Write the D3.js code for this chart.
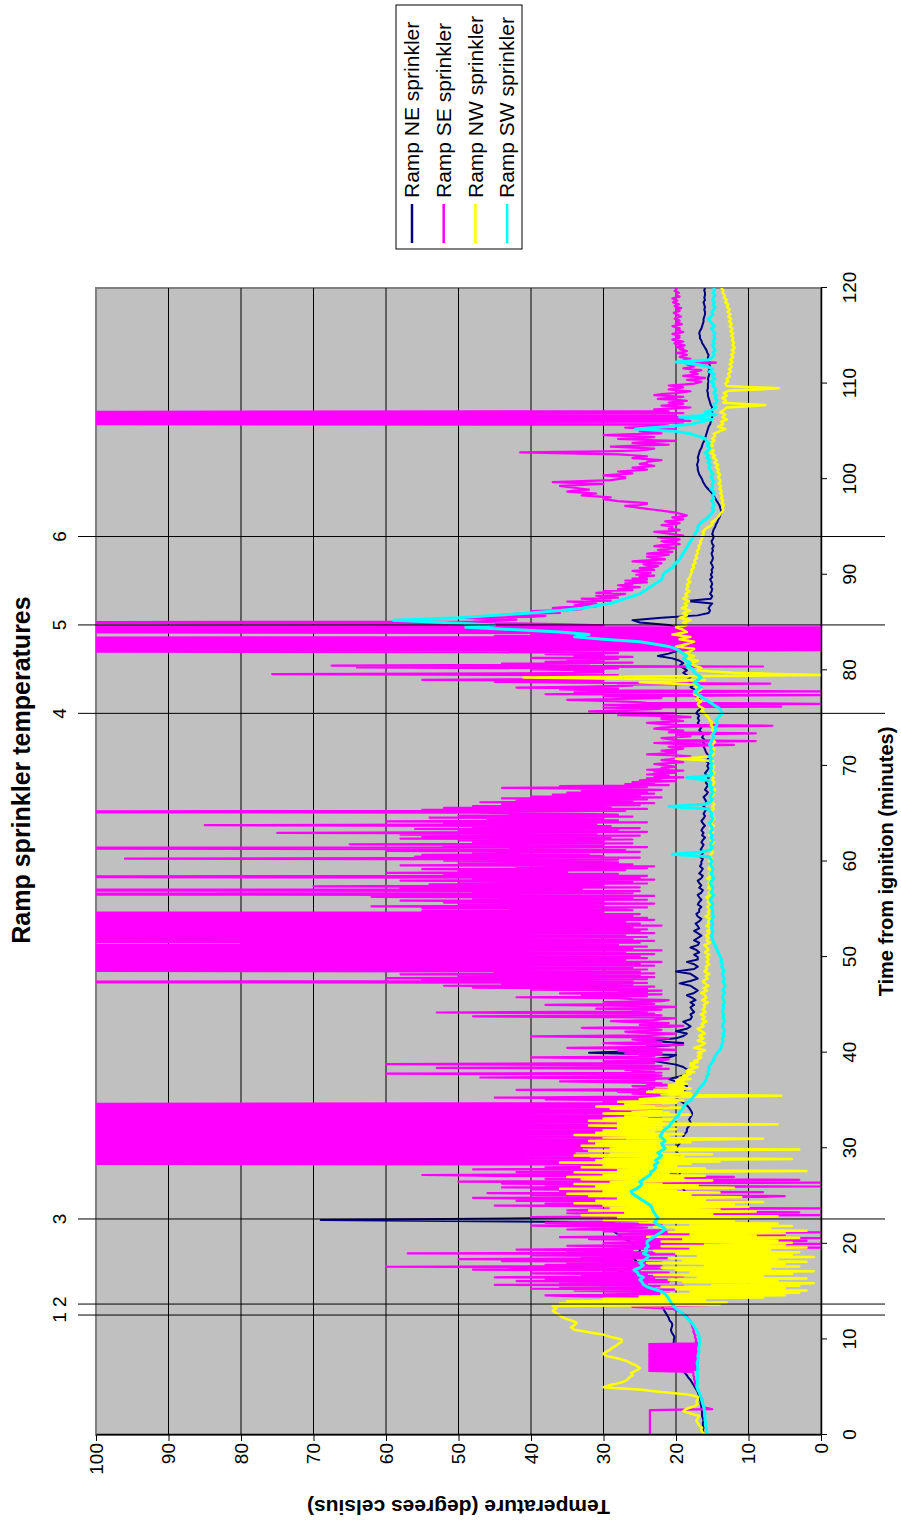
<!DOCTYPE html>
<html>
<head>
<meta charset="utf-8">
<script src="https://cdn.jsdelivr.net/npm/d3@7"></script>
<style>
body { margin: 0; background: #fff; }
text { font-family: "Liberation Sans", Arial, sans-serif; }
</style>
</head>
<body>
<svg width="901" height="1526"></svg>
<script>
var seriesNames = ["Ramp NE sprinkler", "Ramp SE sprinkler", "Ramp NW sprinkler", "Ramp SW sprinkler"];
var seriesColors = ["#000080", "#ff00ff", "#ffff00", "#00ffff"];
var timeTicks = [0, 10, 20, 30, 40, 50, 60, 70, 80, 90, 100, 110, 120];
var tempTicks = [0, 10, 20, 30, 40, 50, 60, 70, 80, 90, 100];
var eventTimes = [12.55, 13.7, 22.6, 75.5, 84.75, 94.0];
var eventLabels = [["1 2", [12.55, 13.7]], ["3", [22.6]], ["4", [75.5]], ["5", [84.75]], ["6", [94.0]]];

// NE sprinkler, one reading every 0.25 min
var ne = [
16.2,16.2,16.3,16.2,16.3,16.3,16.2,16.3,16.4,16.4,16.4,16.5,16.5,16.6,16.6,16.7,16.8,16.9,17.0,17.2,
17.4,17.6,17.8,18.0,18.3,18.5,18.8,19.0,19.3,19.5,19.7,19.9,20.0,20.2,20.3,20.4,20.5,20.5,20.4,20.3,
20.3,20.2,20.4,20.6,20.7,20.6,20.5,20.6,20.9,21.0,21.2,21.4,21.6,21.8,22.0,22.3,22.6,23.0,23.4,23.8,
24.5,25.0,25.5,26.0,26.5,27.5,28.5,29.0,28.0,27.0,26.5,26.0,25.5,25.5,26.0,26.0,25.5,25.0,25.0,25.5,
26.0,26.5,27.0,27.5,28.0,28.5,27.5,27.0,28.0,29.0,69.0,29.0,27.0,26.5,27.0,26.0,24.0,22.0,21.0,20.0,
19.5,19.0,18.8,19.0,19.3,19.5,19.8,20.0,19.8,19.5,19.5,19.8,20.0,20.2,20.0,19.8,19.5,19.5,19.8,20.0,
20.0,19.8,19.5,19.3,19.0,19.0,18.8,18.5,18.5,18.3,18.0,18.0,18.2,18.0,17.8,17.8,18.0,18.2,18.5,19.0,
19.5,20.0,19.5,19.0,19.0,18.5,18.5,19.0,20.0,21.0,19.5,18.5,18.0,18.5,19.0,20.0,22.0,24.0,21.0,20.0,
32.0,22.0,26.0,21.0,19.0,24.0,20.0,19.0,18.5,20.0,18.5,18.0,18.5,19.0,18.0,17.8,18.0,17.5,17.8,18.0,
17.5,18.0,17.3,17.8,18.5,17.5,17.0,17.5,18.0,19.5,18.0,17.0,17.5,18.0,20.0,17.5,17.0,17.5,18.5,17.0,
17.0,17.5,16.8,17.2,18.0,17.0,16.8,17.5,17.0,16.5,17.0,17.5,16.8,17.0,17.3,16.8,16.5,17.0,17.2,16.8,
16.8,16.5,17.0,16.8,16.5,16.8,17.0,16.5,16.3,16.8,16.5,16.8,17.0,16.5,16.3,16.8,16.5,16.3,16.7,16.5,
16.5,16.3,16.7,16.4,16.2,16.6,16.4,16.2,16.5,16.3,16.0,16.4,16.2,16.5,16.3,16.0,16.3,16.5,16.2,16.0,
16.2,16.0,15.8,16.2,16.0,15.8,16.0,16.2,15.8,15.6,16.0,15.8,15.6,15.9,15.7,15.5,15.8,16.0,15.7,15.5,
15.7,15.5,15.8,15.6,15.4,15.7,15.9,16.0,16.2,16.0,16.3,16.1,16.4,16.2,16.5,16.8,16.5,16.8,17.0,16.8,
17.0,16.8,17.2,17.0,16.5,16.8,17.0,16.5,16.8,17.2,17.5,17.0,17.5,18.0,17.5,18.0,18.5,18.0,18.5,19.0,
18.5,19.0,19.5,19.0,19.5,20.5,22.5,21.0,20.0,19.5,20.0,19.5,19.0,19.5,20.0,19.5,19.0,19.5,20.0,21.0,
25.0,26.0,22.0,17.0,15.5,15.3,15.5,15.3,15.0,18.5,15.2,15.0,15.3,15.1,15.0,15.2,15.0,15.1,15.3,15.0,
15.2,15.0,15.1,14.9,15.0,15.2,15.0,14.9,15.0,15.1,14.9,15.0,14.8,15.0,15.1,14.9,14.8,15.0,14.9,14.8,
14.6,14.5,14.3,14.2,14.0,13.9,13.8,13.8,13.9,14.0,14.2,14.4,14.6,14.8,15.0,15.3,15.6,15.9,16.1,16.3,
16.4,16.6,16.8,16.9,17.0,17.0,17.1,17.0,16.9,17.0,16.9,16.8,16.7,16.5,16.4,16.3,16.1,16.0,15.9,15.8,
15.7,15.6,15.5,15.3,15.2,15.1,15.0,15.0,15.0,15.1,15.0,15.2,15.3,15.4,15.5,15.6,15.6,15.7,15.6,15.6,
15.6,15.5,15.6,15.5,15.4,15.5,15.4,15.3,15.4,15.5,15.6,15.6,15.5,15.7,15.8,16.0,16.2,16.4,16.5,16.7,
16.7,16.8,16.7,16.5,16.4,16.3,16.2,16.2,16.1,16.0,16.0,16.1,16.0,16.1,16.2,16.0,16.1,16.0,16.0,16.1,
16.0];

// SE sprinkler, one reading every 0.1 min (160 = reading off the top of the scale)
var se = [
23.6,23.6,23.6,23.6,23.6,23.6,23.6,23.6,23.6,23.6,23.6,23.6,23.6,23.6,23.6,23.6,23.6,23.6,23.6,23.6,23.6,23.6,23.6,23.6,23.6,
23.6,23.6,15.0,15.5,16.2,16.2,16.3,16.3,16.3,16.3,16.4,16.4,16.4,16.5,16.5,16.6,16.6,16.7,16.7,16.8,16.8,16.9,16.9,17.0,17.1,
17.2,17.2,17.3,17.3,17.4,17.4,17.4,17.4,17.5,17.5,17.5,17.5,17.6,17.6,17.6,17.6,17.7,23.7,17.0,23.7,17.0,23.7,17.0,23.7,17.0,
23.7,17.0,23.7,17.0,23.7,17.0,23.7,17.0,23.7,17.0,23.7,17.0,23.7,17.0,23.7,17.0,23.7,17.0,23.7,17.0,23.7,17.0,17.2,17.3,17.2,
17.2,17.3,17.4,17.4,17.3,17.4,17.5,17.5,17.6,17.6,17.5,17.6,17.7,17.7,17.8,17.8,17.9,17.9,18.0,18.0,18.1,18.2,18.3,18.4,18.5,
18.6,18.8,19.0,19.2,19.5,19.8,20.2,20.5,23.0,26.0,20.0,15.0,19.0,24.0,21.0,18.0,26.0,30.0,22.0,19.0,33.0,38.0,24.0,21.0,30.0,
22,34,20,40,23,36,19,45,24,36,21,42,20,38,23,45,19,33,24,40,21,30,25,48,22,
25,60,22,38,24,35,22,44,26,50,21,33,24,40,20,57,23,35,26,42,24,0,27,35,22,
0,30,24,2,25,32,0,36,22,5,28,24,0,30,22,35,31,24,28,40,22,26,38,32,24,
30,26,28,40,22,0,28,35,3,26,35,30,0,27,24,45,22,38,25,10,42,24,36,48,8,
5,40,22,46,8,36,24,40,20,44,0,38,25,44,0,50,22,3,38,24,12,45,55,24,20,
42,22,26,48,24,38,26,30,34,160,28,160,30,160,26,160,32,160,27,160,34,160,29,160,33,
160,27,160,26,160,28,160,25,160,27,160,24,160,26,160,25,160,27,160,26,160,24,160,25,160,
25,160,23,160,26,160,22,160,24,160,23,160,21,160,24,160,22,160,21,160,23,160,22,30,24,
24,38,22,45,25,23,21,26,22,28,24,42,21,25,23,26,20,24,22,27,36,23,25,21,47,
25,22,24,60,22,26,23,27,21,53,24,22,26,60,23,25,30,22,21,26,40,23,25,22,27,
22,26,28,20,24,35,23,24,19,26,30,22,23,25,26,21,23,40,24,22,20,25,27,23,22,
24,33,21,19,25,22,21,26,29,23,22,20,24,48,22,25,23,53,24,26,22,31,23,20,26,
38,23,25,30,22,21,26,28,42,24,33,22,36,24,28,22,40,24,48,23,52,26,44,24,160,
26,55,24,60,23,50,25,58,23,45,25,160,24,160,26,160,23,160,25,160,22,160,27,160,24,
160,25,160,23,160,27,160,22,160,26,160,24,160,28,80,25,160,23,160,26,160,24,160,27,160,
23,160,25,160,24,160,26,160,22,160,25,160,27,160,23,160,24,160,26,160,25,160,30,55,26,
28,55,24,62,30,50,23,52,30,58,24,48,26,62,23,55,160,26,48,25,160,33,58,25,70,
30,54,24,50,26,58,23,48,25,160,24,52,28,60,35,50,27,55,24,42,23,58,26,50,28,
36,52,28,96,25,56,30,55,32,48,25,60,27,54,160,24,52,30,65,26,48,30,50,26,58,
29,55,25,58,31,75,24,50,28,56,25,48,29,85,31,52,24,60,28,46,30,54,26,50,28,
35,48,160,27,55,24,52,29,48,25,44,23,47,26,42,24,44,22,40,25,37,23,35,24,33,
22,30,44,24,36,21,27,23,26,20,25,22,24,19,23,21,24,22,20,23,19,24,21,22,20,
21,22,23,21,19,20,22,21,20,19,18,20,24,22,20,21,22,20,19,20,21,18,12,20,23,
20,9,20,21,22,20,18,19,20,9,21,20,19,21,23,22,20,6.7,20,22,24,21,19,20,22,
22,18,20,28,24,20,26,32,28,24,22,30,5.5,26,30,0,24,26,30,35,28,22,26,30,0,
38,30,34,0,30,36,28,42,32,26,28,7,35,45,30,55,33,26,40,32,28,75.7,36,30,34,
30,40,28,64,8,67.5,32,44,26,38,30,35,28,40,26,34,30,38,28,45,160,0,160,0,160,
0,160,0,160,0,160,0,160,0,160,0,45,0,40,0,160,0,160,0,160,0,160,30,35,40,
160,48,44,42,47,50,40,38,44,42,36,38,40,35,33,37,36,31,34,33,31,33,35,29,31,
33,28,30,31,28,27,31,29,30,26,28,27,25,27,28,26,27,24,25,27,24,26,24,25,23,
25.5,24,23.5,25,26,23,24,25,23,22.5,24,24.5,22,23,26,24,21.5,22,23.5,24,22,21,24,23,20.5,
22,22.5,21,20,21,23,22,19.5,20,21.5,22,20,19.5,21,22.5,20,19,20,21,22,23,20,19.5,21,20.5,
20.5,21,22,20,19.5,21,21.5,20,19,20,20.5,19,18.5,19,19.5,20,21,22,23,24,25,26,27,25,24,
24,26,28,29,30,30,29,31,33,32,31,33,35,34,32,33,34,35,36,33,30,34,37,33,29,
28,27,27,28,30,28,26,27,28,26,24,25,26,24,23,24,25,24,24,23,22,24,26,25,24,
26,28,35,41.5,30,25,24,23,26,29,25,21,23,26,24,20,24,28,25,23,26,30,27,22,24,
25,22,20,24,27,23,21,22,160,19,160,18,160,19,160,18,160,20,160,19,160,21,22,23,20,
18,20,22,20,19,21,20,18.5,20,22.5,21,19,21,23,22,20,19,18,20,21,20,19,20,21,19,
17.5,17,16.5,17.5,18.5,17,16,17.5,19,18,17,17.5,18,17,16.5,18,19,18,17.5,18,18.5,16,14.5,17,19,
18.5,18,19,19.5,19,18.5,19,20,19,18.5,19,19.5,19,20,19.5,18.8,19.5,20.2,19.5,19,19.8,20.5,20,19.5,20,
19.5,20,20.5,19.5,19,19.5,20,19.5,19.5,20,20.5,20,19.2,19.5,20,19.8,19.5,19.8,20.2,20,19.3,19.5,19.8,20.1,20.3,
19.9,19.5,19.7,20,19.3,19.8,20.2,20,19.6,20,20.4,20.1,19.8,20.2,20.5,20,19.5,19.8,20,19.9,19.6,19.9,20.2,20,19.9,
19.8];

// NW sprinkler, one reading every 0.125 min
var nw = [
16.0,16.1,16.3,16.4,16.5,16.5,16.4,16.6,16.8,16.9,17.0,17.1,17.2,17.1,17.0,16.9,16.8,17.4,18.0,18.5,19.0,18.8,18.5,18.0,17.5,17.2,17.0,17.1,17.2,17.1,17.0,17.0,17.0,17.7,18.5,20.2,22.0,23.5,25.0,27.5,
30.0,29.5,29.0,28.2,27.5,27.1,26.8,26.6,26.5,26.2,26.0,26.1,26.2,25.8,25.5,25.2,25.0,25.2,25.5,25.8,26.2,26.5,26.8,27.4,28.0,28.8,29.5,29.8,30.0,29.8,29.5,29.2,29.0,28.8,28.5,28.2,28.0,27.8,27.5,27.5,
27.5,28.2,29.0,29.5,30.0,31.0,32.0,33.0,34.0,34.2,34.5,34.2,34.0,33.8,33.7,34.1,34.5,35.0,35.5,35.8,36.0,36.2,36.5,36.8,37.0,36.8,36.5,36.8,37.0,14.0,36.0,13.0,35.0,16.0,30.0,8.0,25.0,5.0,22.0,3.0,
18,2,20,5,22,3,15,1,19,6,21,2,17,8,23,4,18,1,20,7,22,3,16,5,24,2,19,6,21,1,17,4,20,3,23,7,18,2,22,5,
16,4,22,6,19,3,24,9,18,5,21,2,20,7,23,4,18,6,25,12,30,10,28,6,33,15,27,9,32,14,29,10,30,12,34,8,31,16,28,11,
32,18,35,14,30,20,36,12,31,17,34,22,29,15,33,19,35,16,30,21,34,2,28,16,33,20,30,18,36,14,31,4,30,19,34,15,29,22,32,3,
29,20,33,22,31,18,32,21,8,30,21,34,19,31,23,30,20,28,22,32,6,28,22,32,20,30,24,27,18,30,21,26,22,29,19,31,23,27,20,28,
19,25,22,18,5.5,22,18,24,19,23,18,21,19,21,18.5,20,19,20,18,19.5,18.5,19,18,18.5,17.5,18.5,18,17.5,17,18,17.5,18,17,17.5,17,16.8,16.5,17,16.8,16.5,
17.0,16.5,16.0,16.8,17.5,17.0,16.5,16.2,16.0,16.5,17.0,16.6,16.2,16.5,16.8,16.4,16.0,16.2,16.5,16.8,17.0,16.6,16.2,16.3,16.5,16.2,15.8,16.1,16.4,16.2,16.0,16.3,16.6,16.2,15.9,16.1,16.3,16.2,16.0,16.1,
16.2,15.9,15.6,16.0,16.4,16.1,15.8,15.9,16.0,16.2,16.5,16.1,15.7,16.0,16.2,15.8,15.5,15.8,16.0,16.2,16.3,16.0,15.6,15.8,15.9,15.6,15.4,15.8,16.1,15.9,15.7,15.8,15.9,15.6,15.4,15.6,15.8,15.6,15.5,15.6,
15.8,15.6,15.4,15.7,16.0,15.8,15.5,15.6,15.7,15.9,16.1,15.7,15.3,15.5,15.8,15.6,15.5,15.7,15.9,15.6,15.4,15.5,15.7,15.4,15.2,15.5,15.8,15.6,15.5,15.5,15.6,15.4,15.3,15.6,15.9,15.6,15.4,15.5,15.6,15.4,
15.3,15.5,15.7,15.4,15.2,15.4,15.6,15.5,15.4,15.6,15.8,15.5,15.2,15.3,15.5,15.2,15.0,15.3,15.6,15.4,15.3,15.4,15.5,15.3,15.1,15.4,15.7,15.4,15.2,15.3,15.4,15.2,15.0,15.2,15.5,15.4,15.3,15.2,15.1,15.2,
15.4,15.2,15.0,15.2,15.5,15.3,15.2,15.0,14.9,15.1,15.4,15.2,15.1,15.2,15.3,15.0,14.8,15.0,15.2,15.1,15.0,15.2,15.4,15.1,14.9,15.0,15.1,15.2,15.3,15.0,14.8,15.0,15.2,15.1,15.0,14.8,14.7,14.9,15.1,15.0,
14.9,15.0,15.2,15.0,14.8,14.9,15.0,14.8,14.7,14.9,15.1,15.0,14.9,15.1,15.3,15.0,14.8,14.9,15.0,14.8,14.6,14.8,15.1,15.0,14.9,14.8,14.7,14.8,15.0,14.9,14.8,15.0,15.2,15.0,14.7,14.8,15.0,14.9,14.9,14.8,
14.8,15.0,15.1,15.0,14.9,16.5,20.0,17.0,15.2,15.0,14.8,14.9,15.0,14.8,14.7,14.9,15.1,15.0,14.9,14.8,14.6,14.8,15.0,14.9,14.8,15.0,15.1,14.9,14.7,14.8,15.0,14.9,14.8,15.0,15.2,15.1,15.0,15.1,15.3,15.4,
15.5,15.6,15.8,15.9,16.0,16.2,16.5,16.4,16.2,16.5,16.8,16.9,17.0,16.8,16.5,16.8,17.2,17.0,16.8,17.1,17.5,17.2,17.0,16.8,16.5,16.9,17.3,17.1,17.0,21.0,25.0,20.0,16.0,28.0,41.0,20.0,0.0,6.0,12.0,15.0,
17.0,16.8,16.5,17.0,17.5,17.8,18.0,17.5,17.0,17.8,18.5,18.0,17.5,18.2,19.0,18.5,18.0,17.8,17.5,18.8,20.0,19.2,18.5,18.0,17.5,18.5,19.5,18.8,18.0,19.2,20.5,19.5,18.5,18.8,19.0,19.5,20.0,19.2,18.5,18.8,
19.0,18.5,18.0,18.8,19.5,19.0,18.5,18.8,19.0,18.5,18.0,18.6,19.2,18.8,18.5,18.6,18.8,18.5,18.2,18.6,19.0,18.7,18.4,18.6,18.7,18.4,18.1,18.3,18.6,18.5,18.3,18.4,18.5,18.2,18.0,18.2,18.4,18.2,18.1,18.0,
18.0,17.9,17.8,17.8,17.9,17.7,17.5,17.6,17.7,17.5,17.3,17.4,17.5,17.3,17.1,17.2,17.3,17.1,17.0,17.0,17.1,16.9,16.8,16.8,16.9,16.7,16.6,16.6,16.7,16.5,16.4,16.4,16.5,16.3,16.2,16.2,16.3,16.1,16.0,15.8,
15.5,15.2,15.0,15.0,15.1,14.8,14.6,14.4,14.3,14.1,14.0,13.9,13.8,13.6,13.5,13.5,13.6,13.5,13.4,13.5,13.7,13.6,13.5,13.6,13.8,13.7,13.6,13.7,13.9,13.8,13.7,13.8,14.0,13.9,13.8,13.9,14.1,14.0,13.9,13.9,
14.0,14.1,14.2,14.0,13.9,14.1,14.3,14.2,14.1,14.3,14.5,14.3,14.2,14.5,14.7,14.5,14.4,14.6,14.9,14.8,14.6,14.9,15.2,15.0,14.8,15.2,15.5,15.2,14.9,15.1,15.3,15.0,14.7,14.8,15.0,14.8,14.6,14.7,14.8,14.4,
14.0,13.6,13.2,13.7,14.2,13.8,13.5,13.6,13.8,13.4,13.0,13.3,13.6,13.4,13.2,13.5,13.9,13.6,13.4,13.2,13.0,10.0,7.7,10.5,13.5,13.3,13.1,13.3,13.6,13.3,13.0,13.2,13.4,13.1,12.8,9.0,5.8,9.5,13.0,13.1,
13.2,13.0,12.8,12.9,13.0,12.8,12.6,12.7,12.8,12.6,12.4,12.5,12.7,12.5,12.3,12.4,12.6,12.4,12.2,12.3,12.5,12.3,12.1,12.2,12.4,12.2,12.0,12.1,12.3,12.1,11.9,12.0,12.2,12.1,12.0,12.1,12.3,12.2,12.1,12.2,
12.4,12.2,12.1,12.3,12.5,12.3,12.2,12.4,12.6,12.4,12.3,12.5,12.7,12.5,12.4,12.6,12.8,12.6,12.5,12.7,12.9,12.7,12.6,12.8,13.0,12.9,12.8,13.0,13.2,13.1,13.0,13.2,13.4,13.3,13.3,13.4,13.6,13.5,13.5,13.6,
13.8];

// SW sprinkler, one reading every 0.25 min
var sw = [
15.7,15.7,15.8,15.8,15.9,15.9,16.0,16.0,16.0,16.0,16.1,16.1,16.2,16.3,16.4,16.5,16.6,16.7,16.8,17.0,
17.1,17.1,17.0,17.1,17.0,17.0,17.1,17.0,17.0,17.0,17.1,17.0,16.9,17.0,16.9,16.8,16.9,16.8,16.8,16.7,
16.7,16.8,16.9,17.0,17.2,17.4,17.6,17.9,18.2,18.5,18.8,19.2,19.6,20.0,20.3,20.6,20.8,21.0,21.2,21.5,
22.0,23.0,24.0,24.5,24.7,25.0,24.5,25.2,25.3,25.8,25.0,24.5,25.0,24.5,24.0,23.8,24.5,24.0,24.2,23.8,
24.0,24.0,23.5,23.0,22.5,22.0,21.5,21.8,22.5,23.0,22.7,22.5,22.8,23.0,23.2,23.3,23.5,24.0,24.5,25.0,
25.5,26.0,26.2,25.5,25.0,24.7,25.0,24.5,24.0,23.5,23.5,23.0,22.8,23.0,22.5,22.8,22.3,22.0,22.5,22.0,
21.5,21.8,22.0,21.5,21.8,22.2,22.0,21.8,21.5,21.0,20.8,20.5,20.2,20.0,19.6,19.5,19.2,19.0,18.8,18.5,
18.0,17.7,17.5,17.2,17.0,16.8,16.5,16.2,16.0,15.8,15.8,15.5,15.6,15.4,15.5,15.2,15.0,14.8,14.7,14.5,
14.3,14.0,13.8,13.7,13.6,13.5,13.6,13.4,13.5,13.3,13.4,13.6,13.5,13.3,13.4,13.5,13.4,13.6,13.5,13.4,
13.5,13.3,13.4,13.6,13.5,13.3,13.5,13.4,13.2,13.4,13.5,13.3,13.5,13.6,13.4,13.5,13.7,13.6,13.8,13.7,
13.9,14.0,14.2,14.3,14.5,14.6,14.8,14.9,15.0,15.1,15.0,14.9,15.1,15.0,14.9,15.1,15.0,14.8,15.0,14.9,
15.0,15.2,14.9,15.1,15.3,15.0,14.8,15.2,15.0,14.9,15.1,15.3,15.0,14.8,15.0,15.2,15.0,14.9,15.1,15.3,
15.0,15.2,15.4,20.5,16.5,15.2,15.0,15.3,15.1,14.9,15.2,15.0,15.3,15.1,15.0,15.2,15.4,15.1,14.9,15.2,
15.0,15.3,15.5,21.0,16.0,15.2,15.0,15.3,15.1,14.9,15.2,15.0,15.4,15.2,15.5,18.5,15.2,15.0,15.3,15.1,
15.2,15.0,15.3,15.1,15.4,15.2,15.0,15.3,15.1,15.4,15.2,15.0,14.8,15.0,14.7,14.5,14.6,14.4,14.3,14.5,
14.2,14.0,13.6,13.8,14.0,14.5,15.0,15.5,16.0,16.5,17.0,17.5,17.0,16.5,17.0,17.5,17.0,16.5,17.0,17.5,
17.5,18.0,18.5,18.0,18.5,19.0,18.5,19.0,19.5,20.0,21.0,23.0,25.0,30.0,34.0,32.0,36.0,42.0,49.0,45.0,
52.0,59.0,50.0,45.0,40.0,36.0,33.0,31.0,29.0,28.0,27.0,26.0,25.0,24.5,24.0,23.5,23.0,22.5,22.0,21.8,
21.8,21.5,21.0,20.5,20.3,20.0,19.6,19.4,19.2,19.0,18.8,18.6,18.4,18.2,18.0,17.8,17.6,17.4,17.2,17.0,
17.0,16.8,16.5,16.0,15.6,15.3,15.0,14.8,15.0,14.7,14.9,15.1,14.8,15.0,14.7,14.9,15.2,14.9,15.0,14.8,
15.0,15.2,14.9,15.1,15.3,15.5,15.2,15.6,15.3,15.8,15.5,16.0,15.6,15.3,15.7,15.4,15.8,16.0,17.0,18.0,
20.0,25.6,21.0,18.0,16.5,15.0,19.5,14.5,16.0,15.0,14.5,14.8,14.5,14.3,14.6,14.4,14.8,14.5,14.6,14.9,
14.8,15.2,14.6,15.0,14.7,15.4,14.9,15.5,17.0,20.0,15.5,15.0,14.7,14.9,14.6,14.8,15.0,14.7,14.9,14.6,
14.8,14.6,14.9,15.1,14.7,15.0,15.3,15.6,15.2,14.9,15.1,14.8,14.6,14.9,14.7,15.0,14.8,14.6,14.9,14.7,
14.8];

var seriesData = [ne, se, nw, sw];
var seriesWidths = [2, 2.2, 2.5, 3];

// the chart is laid out in its own frame, then turned a quarter turn anticlockwise
var svg = d3.select("svg");
var g = svg.append("g").attr("transform", "translate(0,1526) rotate(-90)");

var x = d3.scaleLinear().domain([0, 120]).range([91, 1238]);
var y = d3.scaleLinear().domain([0, 100]).range([821, 96]);

g.append("defs").append("clipPath").attr("id", "plotclip")
    .append("rect")
    .attr("x", x(0)).attr("y", y(100))
    .attr("width", x(120) - x(0)).attr("height", y(0) - y(100));

g.append("rect")
    .attr("x", x(0)).attr("y", y(100))
    .attr("width", x(120) - x(0)).attr("height", y(0) - y(100))
    .attr("fill", "#c0c0c0")
    .attr("stroke", "#808080")
    .attr("stroke-width", 2);

g.append("g").selectAll("line")
    .data(tempTicks.filter(function(d) { return d > 0 && d < 100; }))
    .enter().append("line")
    .attr("x1", x(0)).attr("x2", x(120))
    .attr("y1", function(d) { return y(d); })
    .attr("y2", function(d) { return y(d); })
    .attr("stroke", "#000")
    .attr("stroke-width", 1);

var plot = g.append("g").attr("clip-path", "url(#plotclip)");

seriesData.forEach(function(vals, k) {
    var step = 120 / (vals.length - 1);
    var line = d3.line()
        .x(function(d, i) { return x(i * step); })
        .y(function(d) { return y(d); });
    plot.append("path")
        .datum(vals)
        .attr("d", line)
        .attr("fill", "none")
        .attr("stroke", seriesColors[k])
        .attr("stroke-width", seriesWidths[k])
        .attr("stroke-linejoin", "round");
});

var xAxis = g.append("g")
    .attr("transform", "translate(0," + y(0) + ")")
    .call(d3.axisBottom(x).tickValues(timeTicks).tickSize(6).tickSizeOuter(0).tickPadding(16));
var yAxis = g.append("g")
    .attr("transform", "translate(" + x(0) + ",0)")
    .call(d3.axisLeft(y).tickValues(tempTicks).tickSize(6).tickSizeOuter(0).tickPadding(2));
[xAxis, yAxis].forEach(function(a) {
    a.selectAll("text").attr("font-size", 19).attr("fill", "#000")
        .attr("font-family", "'Liberation Sans', Arial, sans-serif");
    a.selectAll("line").attr("stroke", "#000");
    a.select(".domain").attr("stroke", "#000").attr("stroke-width", 1.5);
});

g.append("g").selectAll("line")
    .data(eventTimes)
    .enter().append("line")
    .attr("x1", function(d) { return x(d); })
    .attr("x2", function(d) { return x(d); })
    .attr("y1", 78).attr("y2", 885)
    .attr("stroke", "#000")
    .attr("stroke-width", 1);

g.append("g").selectAll("text")
    .data(eventLabels)
    .enter().append("text")
    .attr("x", function(d) { return x(d3.mean(d[1])); })
    .attr("y", 66)
    .attr("text-anchor", "middle")
    .attr("font-size", 19)
    .text(function(d) { return d[0]; });

g.append("text")
    .attr("x", 756).attr("y", 30)
    .attr("text-anchor", "middle")
    .attr("font-size", 25).attr("font-weight", "bold")
    .text("Ramp sprinkler temperatures");

g.append("text")
    .attr("x", (x(0) + x(120)) / 2).attr("y", 893)
    .attr("text-anchor", "middle")
    .attr("font-size", 20).attr("font-weight", "bold")
    .text("Time from ignition (minutes)");

g.append("text")
    .attr("transform", "translate(26," + (y(0) + y(100)) / 2 + ") rotate(-90)")
    .attr("text-anchor", "middle")
    .attr("font-size", 21).attr("font-weight", "bold")
    .text("Temperature (degrees celsius)");

var legend = g.append("g");
legend.append("rect")
    .attr("x", 1277).attr("y", 396)
    .attr("width", 244).attr("height", 126)
    .attr("fill", "#fff").attr("stroke", "#000").attr("stroke-width", 1);
var entry = legend.selectAll(".entry")
    .data(seriesNames)
    .enter().append("g")
    .attr("class", "entry")
    .attr("transform", function(d, i) { return "translate(0," + (412 + i * 31.7) + ")"; });
entry.append("line")
    .attr("x1", 1283).attr("x2", 1322)
    .attr("stroke", function(d, i) { return seriesColors[i]; })
    .attr("stroke-width", 2.5);
entry.append("text")
    .attr("x", 1328).attr("dy", "0.35em")
    .attr("font-size", 21)
    .text(function(d) { return d; });
</script>
</body>
</html>
